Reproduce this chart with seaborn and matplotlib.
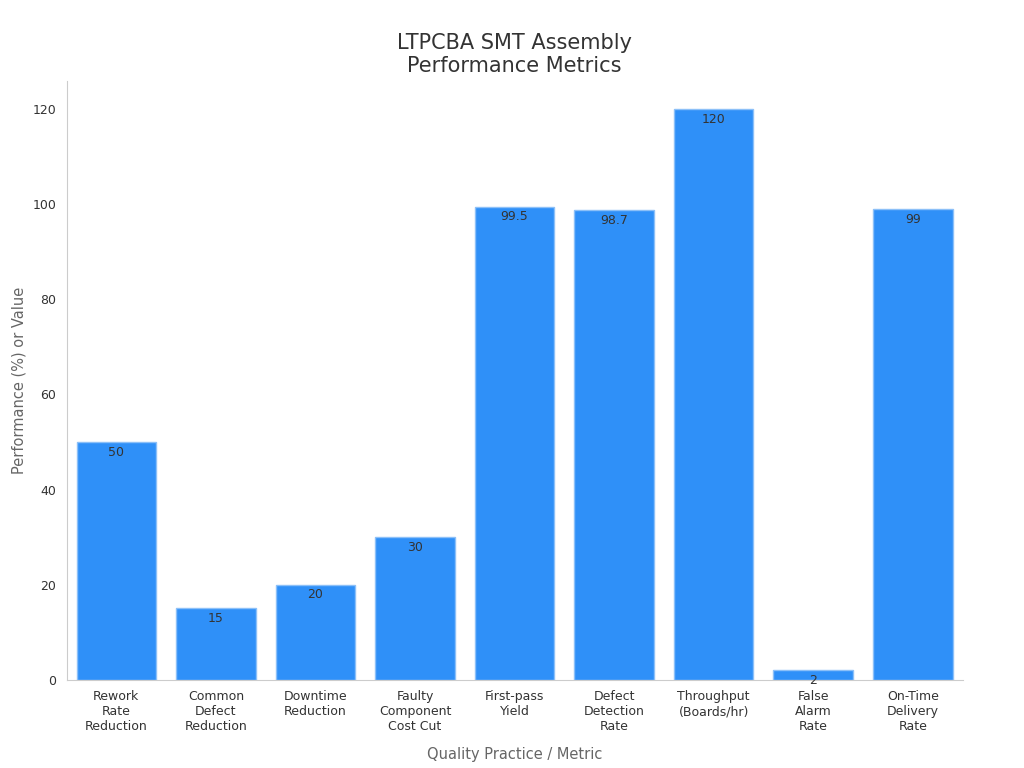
import matplotlib
matplotlib.use("Agg")
import matplotlib.pyplot as plt
import seaborn as sns
import pandas as pd

categories = ["Rework\nRate\nReduction", "Common\nDefect\nReduction", "Downtime\nReduction",
              "Faulty\nComponent\nCost Cut", "First-pass\nYield", "Defect\nDetection\nRate",
              "Throughput\n(Boards/hr)", "False\nAlarm\nRate", "On-Time\nDelivery\nRate"]
values = [50, 15, 20, 30, 99.5, 98.7, 120, 2, 99]
labels = ["50", "15", "20", "30", "99.5", "98.7", "120", "2", "99"]

df = pd.DataFrame({"metric": categories, "value": values})

sns.set_style("white")
fig, ax = plt.subplots(figsize=(10.24, 7.68), dpi=100)
sns.barplot(data=df, x="metric", y="value", color="#2F90F8", saturation=1,
            edgecolor="#8CC0F8", linewidth=1, width=0.8, ax=ax)

for i, (v, lab) in enumerate(zip(values, labels)):
    ax.text(i, v - 0.8, lab, ha="center", va="top", fontsize=9, color="#333333")

ax.set_title("LTPCBA SMT Assembly\nPerformance Metrics", fontsize=15, color="#333333")
ax.set_xlabel("Quality Practice / Metric", fontsize=10.5, color="#666666", labelpad=10)
ax.set_ylabel("Performance (%) or Value", fontsize=10.5, color="#666666")
ax.set_ylim(0, 126)
ax.set_xlim(-0.5, 8.5)
ax.tick_params(axis="both", labelsize=9, colors="#333333", length=4)
ax.tick_params(axis="both", color="#999999")
sns.despine(ax=ax)
for s in ["left", "bottom"]:
    ax.spines[s].set_color("#cccccc")

plt.subplots_adjust(left=0.065, right=0.94, top=0.895, bottom=0.115)
plt.savefig("out.png", dpi=100)
